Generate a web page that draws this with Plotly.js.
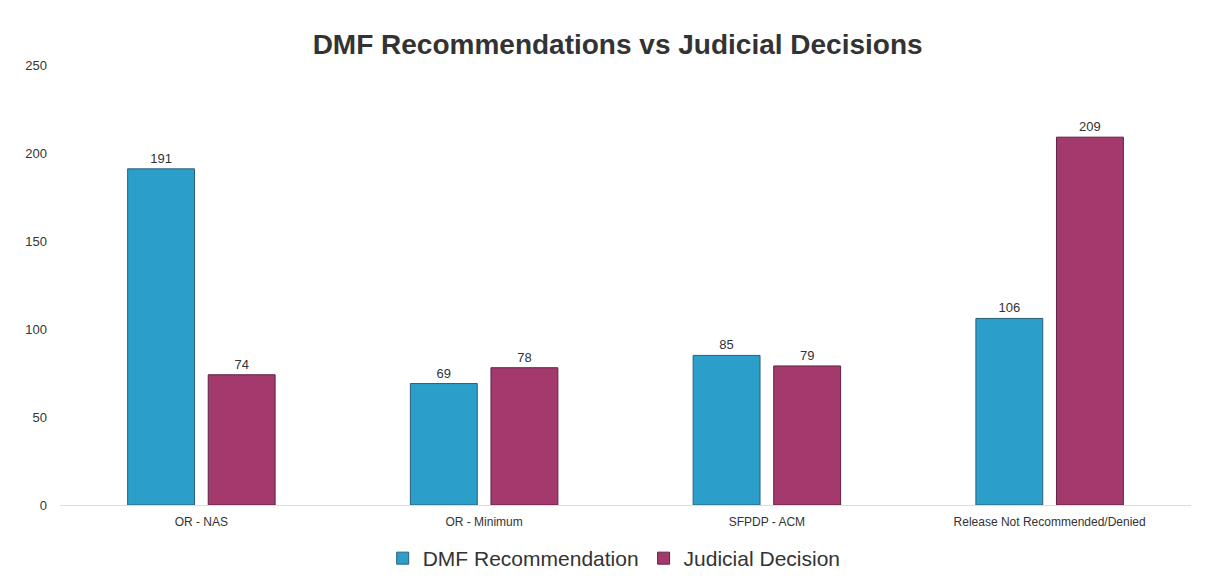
<!DOCTYPE html>
<html>
<head>
<meta charset="utf-8">
<script src="https://cdn.plot.ly/plotly-3.0.1.min.js"></script>
<style>html,body{margin:0;padding:0;background:#fff;}#chart{width:1211px;height:583px;}</style>
</head>
<body>
<div id="chart"></div>
<script>
const categories = ["OR - NAS", "OR - Minimum", "SFPDP - ACM", "Release Not Recommended/Denied"];
const dmfRecommendation = [191, 69, 85, 106];
const judicialDecision = [74, 78, 79, 209];
const seriesNames = ["DMF Recommendation", "Judicial Decision"];
const yTicks = [0, 50, 100, 150, 200, 250];

const traces = [
  {
    type: "bar", name: seriesNames[0], x: categories, y: dmfRecommendation,
    marker: {color: "#2b9fca", line: {color: "#2a5f78", width: 1}},
    text: dmfRecommendation.map(String), textposition: "outside", cliponaxis: false,
    textfont: {family: "Liberation Sans, Arial, sans-serif", size: 13, color: "#333"}
  },
  {
    type: "bar", name: seriesNames[1], x: categories, y: judicialDecision,
    marker: {color: "#a3396d", line: {color: "#5e2340", width: 1}},
    text: judicialDecision.map(String), textposition: "outside", cliponaxis: false,
    textfont: {family: "Liberation Sans, Arial, sans-serif", size: 13, color: "#333"}
  }
];

const layout = {
  width: 1211, height: 583,
  paper_bgcolor: "#fff", plot_bgcolor: "#fff",
  font: {family: "Liberation Sans, Arial, sans-serif", color: "#333"},
  title: {text: "<b>DMF Recommendations vs Judicial Decisions</b>", x: 0.51, xanchor: "center", y: 0.925, yanchor: "middle",
          font: {size: 28, color: "#333", family: "Liberation Sans, Arial, sans-serif"}},
  margin: {l: 60, r: 20, t: 65, b: 78, autoexpand: false},
  barmode: "group", bargap: 0.43, bargroupgap: 0.17,
  xaxis: {tickfont: {size: 12, color: "#333"}, showline: true, linecolor: "#ddd", ticks: "", ticklabelstandoff: 6},
  yaxis: {range: [0, 250], tickvals: yTicks, tickfont: {size: 13, color: "#333"},
          showgrid: false, zeroline: false, showline: false, ticklabelstandoff: 12},
  legend: {orientation: "h", x: 0.49, xanchor: "center", y: -0.075, yanchor: "top",
           font: {size: 21, color: "#333"}, itemwidth: 30},
  showlegend: true
};

Plotly.newPlot("chart", traces, layout, {displayModeBar: false, staticPlot: true});
</script>
</body>
</html>
